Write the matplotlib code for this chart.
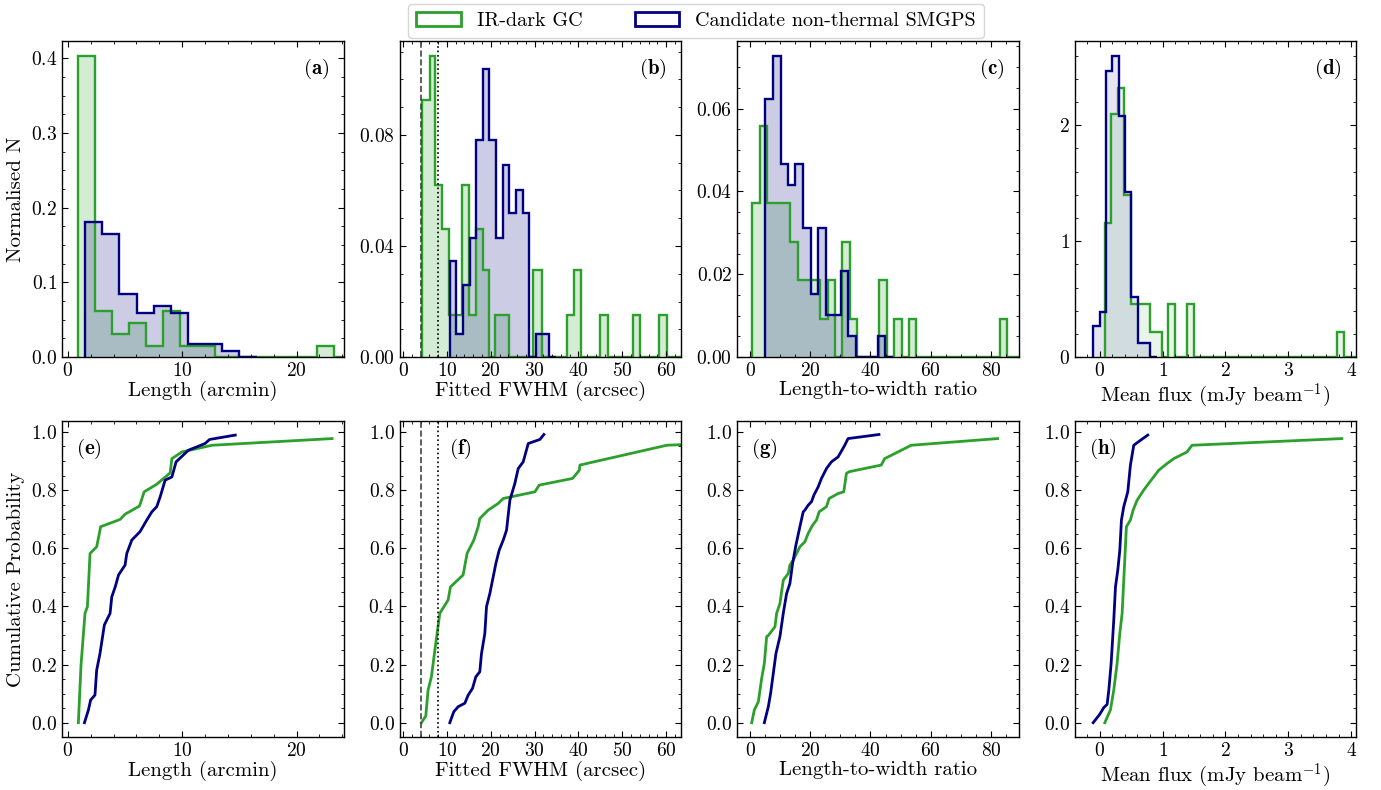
import numpy as np
import matplotlib
matplotlib.use("Agg")
import matplotlib.pyplot as plt
from matplotlib.patches import Patch
from matplotlib.ticker import AutoMinorLocator, MultipleLocator

plt.rcParams.update({
    "font.family": "serif", "font.serif": ["cmr10"], "mathtext.fontset": "cm",
    "axes.formatter.use_mathtext": True, "font.size": 14,
    "xtick.direction": "in", "ytick.direction": "in", "xtick.top": True, "ytick.right": True,
    "xtick.minor.visible": True, "ytick.minor.visible": True,
    "xtick.major.size": 4.5, "ytick.major.size": 4.5, "xtick.minor.size": 2.3, "ytick.minor.size": 2.3,
    "axes.linewidth": 1.0, "axes.labelsize": 15,
})

GREEN = "#2ca02c"; BLUE = "#000080"

# ---- histograms (bin edges, normalised heights) ----
len_g_edges = [0.86, 2.36, 3.85, 5.35, 6.84, 8.34, 9.84, 11.33, 12.83, 21.80, 23.30, 24.8]
len_g_h = [0.4035, 0.0617, 0.0304, 0.0456, 0.0153, 0.0617, 0.0153, 0.0153, 0.0, 0.0153, 0.0]
len_b_edges = [1.53, 3.03, 4.52, 6.02, 7.52, 9.01, 10.50, 12.0, 13.5, 15.0, 16.5]
len_b_h = [0.181, 0.1654, 0.085, 0.0595, 0.0689, 0.0595, 0.017, 0.017, 0.008, 0.0]

fw_g_edges = [4.35, 6.10, 7.39, 8.91, 10.51, 13.55, 15.0, 16.6, 18.12, 19.57, 20.94, 24.13, 29.69,
              31.59, 37.3, 39.05, 40.57, 44.9, 46.66, 52.37, 54.04, 58.45, 60.28, 64.5]
fw_g_h = [0.0925, 0.1084, 0.0619, 0.0463, 0.0150, 0.0619, 0.0150, 0.0463, 0.0312, 0.0, 0.0150, 0.0,
          0.0312, 0.0, 0.0150, 0.0312, 0.0, 0.0150, 0.0, 0.0150, 0.0, 0.0150, 0.0]
fw_b_edges = [10.66, 12.17, 13.68, 15.19, 16.70, 18.20, 19.71, 21.22, 22.73, 24.24, 25.75, 27.26,
              28.77, 30.28, 31.79, 33.30, 34.81]
fw_b_h = [0.0346, 0.0084, 0.0258, 0.043, 0.0781, 0.1037, 0.0781, 0.043, 0.0691, 0.0519, 0.0603,
          0.0519, 0.0, 0.0084, 0.0084, 0.0]

lw_g_edges = [0.66, 3.32, 5.53, 13.38, 15.81, 23.33, 25.76, 28.19, 30.51, 33.17, 35.49, 42.9, 45.44,
              47.87, 50.41, 52.85, 55.28, 83.03, 85.46, 90.0]
lw_g_h = [0.0371, 0.0558, 0.0371, 0.0278, 0.01855, 0.00928, 0.01855, 0.0, 0.0278, 0.00928, 0.0,
          0.01855, 0.0, 0.00928, 0.0, 0.00928, 0.0, 0.00928, 0.0]
lw_b_edges = [5.09, 7.74, 10.28, 12.71, 15.04, 17.69, 20.23, 22.66, 25.21, 30.18, 32.61, 35.16,
              42.57, 44.89, 47.4]
lw_b_h = [0.0623, 0.0728, 0.0465, 0.0415, 0.0465, 0.0311, 0.0153, 0.0311, 0.01025, 0.0208, 0.0051,
          0.0, 0.0051, 0.0]

fx_g_edges = [0.08, 0.186, 0.287, 0.393, 0.499, 0.806, 0.99, 1.082, 1.193, 1.389, 1.495, 3.774,
              3.89, 4.1]
fx_g_h = [1.157, 2.093, 2.323, 1.402, 0.455, 0.216, 0.0, 0.455, 0.0, 0.455, 0.0, 0.216, 0.0]
fx_b_edges = [-0.105, -0.004, 0.097, 0.198, 0.299, 0.400, 0.501, 0.602, 0.703, 0.804, 0.905]
fx_b_h = [0.265, 0.389, 2.47, 2.60, 2.079, 1.425, 0.518, 0.121, 0.121, 0.0]

# ---- cumulative distributions (x, y) ----
len_g_cx = [0.93, 1.16, 1.51, 1.72, 1.95, 2.53, 2.88, 4.58, 5.01, 6.27, 6.68, 7.78, 8.95, 9.1, 9.98, 12.6, 23.1]
len_g_cy = [0.0, 0.198, 0.376, 0.399, 0.582, 0.605, 0.674, 0.699, 0.717, 0.745, 0.794, 0.82, 0.859,
            0.908, 0.931, 0.954, 0.977]
len_b_cx = [1.46, 1.81, 2.0, 2.38, 2.53, 2.82, 3.2, 3.7, 3.85, 4.15, 4.44, 5.01, 5.16, 5.6, 6.32,
            6.91, 7.35, 7.78, 8.08, 8.51, 9.1, 9.47, 10.55, 12.0, 12.4, 14.64]
len_b_cy = [0.0, 0.044, 0.078, 0.095, 0.181, 0.238, 0.336, 0.376, 0.433, 0.467, 0.508, 0.542, 0.582,
            0.628, 0.657, 0.697, 0.725, 0.743, 0.777, 0.834, 0.845, 0.897, 0.937, 0.96, 0.974, 0.989]

fw_g_cx = [4.19, 5.18, 5.71, 6.47, 7.46, 8.38, 10.28, 10.81, 13.7, 14.6, 16.14, 17.13, 17.5, 19.41,
           21.7, 22.85, 30.07, 31.05, 38.67, 40.19, 40.34, 60.13, 95.0]
fw_g_cy = [0.0, 0.023, 0.112, 0.158, 0.273, 0.376, 0.422, 0.467, 0.508, 0.582, 0.628, 0.674, 0.702,
           0.731, 0.754, 0.771, 0.794, 0.817, 0.84, 0.868, 0.886, 0.954, 0.977]
fw_b_cx = [10.66, 11.58, 12.57, 14.09, 14.85, 15.84, 16.6, 17.5, 17.89, 18.65, 19.03, 19.79, 20.55,
           21.16, 21.92, 22.85, 23.6, 24.36, 25.5, 26.26, 27.4, 28.55, 31.2, 32.12]
fw_b_cy = [0.0, 0.038, 0.055, 0.067, 0.095, 0.118, 0.158, 0.175, 0.238, 0.307, 0.399, 0.444, 0.501,
           0.547, 0.593, 0.628, 0.662, 0.765, 0.823, 0.874, 0.897, 0.96, 0.974, 0.991]

lw_g_cx = [0.55, 1.44, 2.76, 3.86, 4.75, 5.52, 6.07, 8.28, 8.83, 9.93, 11.04, 12.69, 13.25, 14.35,
           16.56, 18.21, 19.32, 20.75, 22.08, 22.96, 25.39, 26.27, 29.25, 31.13, 32.01, 32.89, 43.6,
           44.7, 53.53, 82.23]
lw_g_cy = [0.0, 0.044, 0.072, 0.152, 0.204, 0.296, 0.3, 0.33, 0.376, 0.41, 0.49, 0.513, 0.542, 0.559,
           0.605, 0.622, 0.651, 0.679, 0.697, 0.725, 0.743, 0.771, 0.788, 0.794, 0.857, 0.863, 0.886,
           0.908, 0.954, 0.977]
lw_b_cx = [4.75, 6.07, 6.84, 7.73, 8.61, 9.93, 11.04, 12.14, 13.25, 14.13, 15.23, 16.56, 17.66, 18.21,
           19.32, 20.42, 21.19, 22.63, 23.73, 25.39, 27.04, 29.25, 31.46, 32.56, 42.83]
lw_b_cy = [0.0, 0.055, 0.101, 0.17, 0.238, 0.296, 0.376, 0.444, 0.479, 0.547, 0.61, 0.674, 0.725,
           0.731, 0.748, 0.76, 0.782, 0.811, 0.84, 0.874, 0.897, 0.914, 0.954, 0.977, 0.991]

fx_g_cx = [0.08, 0.17, 0.223, 0.276, 0.319, 0.356, 0.382, 0.424, 0.488, 0.531, 0.594, 0.7, 0.779,
           0.938, 1.07, 1.177, 1.389, 1.468, 3.853]
fx_g_cy = [0.0, 0.044, 0.112, 0.204, 0.307, 0.376, 0.49, 0.674, 0.697, 0.731, 0.765, 0.8, 0.823,
           0.868, 0.891, 0.908, 0.931, 0.954, 0.977]
fx_b_cx = [-0.105, 0.0, 0.064, 0.117, 0.144, 0.181, 0.223, 0.25, 0.287, 0.319, 0.345, 0.382, 0.446,
           0.488, 0.541, 0.647, 0.764]
fx_b_cy = [0.0, 0.029, 0.052, 0.063, 0.112, 0.204, 0.353, 0.467, 0.525, 0.593, 0.697, 0.743, 0.794,
           0.886, 0.954, 0.971, 0.989]

xlabels = ["Length (arcmin)", "Fitted FWHM (arcsec)", "Length-to-width ratio",
           r"Mean flux (mJy beam$^{-1}$)"]
xlims = [(-0.5, 24.1), (-0.8, 63.4), (-4.3, 89.2), (-0.40, 4.08)]
xsteps = [10, 10, 20, 1]
hist_ylims = [(0, 0.423), (0, 0.1138), (0, 0.0763), (0, 2.726)]
hist_ysteps = [0.1, 0.04, 0.02, 1]
hist_yminor = [4, 4, 4, 5]
fill_alpha = [0.2, 0.2, 0.2, 0.1]
cdf_label_x = [0.05, 0.175, 0.05, 0.05]
hists = [(len_g_edges, len_g_h, len_b_edges, len_b_h), (fw_g_edges, fw_g_h, fw_b_edges, fw_b_h),
         (lw_g_edges, lw_g_h, lw_b_edges, lw_b_h), (fx_g_edges, fx_g_h, fx_b_edges, fx_b_h)]
cdfs = [(len_g_cx, len_g_cy, len_b_cx, len_b_cy), (fw_g_cx, fw_g_cy, fw_b_cx, fw_b_cy),
        (lw_g_cx, lw_g_cy, lw_b_cx, lw_b_cy), (fx_g_cx, fx_g_cy, fx_b_cx, fx_b_cy)]

fig, ax = plt.subplots(2, 4, figsize=(13.81, 7.90), dpi=100)
fig.subplots_adjust(left=0.0449, right=0.982, bottom=0.067, top=0.948, wspace=0.199, hspace=0.2025)

for i in range(4):
    ge, gh, be, bh = hists[i]
    a = ax[0, i]
    a.stairs(gh, ge, fill=True, color=GREEN, alpha=fill_alpha[i], lw=0)
    a.stairs(bh, be, fill=True, color=BLUE, alpha=fill_alpha[i], lw=0)
    a.stairs(gh, ge, color=GREEN, lw=1.7)
    a.stairs(bh, be, color=BLUE, lw=1.7)
    a.set_xlim(*xlims[i]); a.set_ylim(*hist_ylims[i])
    a.yaxis.set_major_locator(MultipleLocator(hist_ysteps[i]))
    a.yaxis.set_minor_locator(AutoMinorLocator(hist_yminor[i]))
    a.set_xlabel(xlabels[i], labelpad=1)
    a.text(0.95, 0.95, r"($\mathbf{%s}$)" % "abcd"[i], transform=a.transAxes, ha="right", va="top", fontsize=15)

    gx, gy, bx, by = cdfs[i]
    b = ax[1, i]
    b.plot(gx, gy, color=GREEN, lw=2)
    b.plot(bx, by, color=BLUE, lw=2)
    b.set_xlim(*xlims[i]); b.set_ylim(-0.0494, 1.0372)
    b.yaxis.set_major_locator(MultipleLocator(0.2))
    b.yaxis.set_minor_locator(AutoMinorLocator(4))
    b.set_xlabel(xlabels[i], labelpad=1)
    b.text(cdf_label_x[i], 0.95, r"($\mathbf{%s}$)" % "efgh"[i], transform=b.transAxes,
           ha="left", va="top", fontsize=15)
    for aa in (a, b):
        aa.xaxis.set_major_locator(MultipleLocator(xsteps[i]))
        aa.xaxis.set_minor_locator(AutoMinorLocator(4 if xsteps[i] == 20 else 5))

# beam reference lines in the FWHM panels
for a in (ax[0, 1], ax[1, 1]):
    a.axvline(4.0, ls="--", color="#444444", lw=1.2)
    a.axvline(8.0, ls=":", color="black", lw=1.2)

ax[0, 0].set_ylabel("Normalised N")
ax[1, 0].set_ylabel("Cumulative Probability")

handles = [Patch(facecolor="none", edgecolor=GREEN, lw=2, label="IR-dark GC"),
           Patch(facecolor="none", edgecolor=BLUE, lw=2, label="Candidate non-thermal SMGPS")]
fig.legend(handles=handles, loc="upper center", bbox_to_anchor=(0.504, 1.008), ncol=2,
           fontsize=14.5, framealpha=0.8, columnspacing=2.6, handlelength=2.2)

plt.savefig("out.png", dpi=100)
